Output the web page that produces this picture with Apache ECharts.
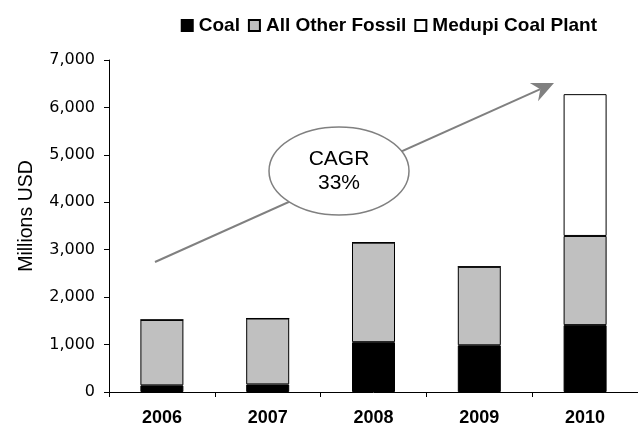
<!DOCTYPE html>
<html><head><meta charset="utf-8">
<script src="https://cdn.jsdelivr.net/npm/echarts@6/dist/echarts.min.js"></script>
<style>html,body{margin:0;padding:0;background:#fff}#c{width:638px;height:429px}</style>
</head><body><div id="c"></div>
<script>
var years = ['2006','2007','2008','2009','2010'];
var coal = [140, 160, 1050, 985, 1410];
var otherFossil = [1380, 1390, 2100, 1655, 1880];
var medupi = [0, 0, 0, 0, 2990];
var yTicks = [0, 1000, 2000, 3000, 4000, 5000, 6000, 7000];

var chart = echarts.init(document.getElementById('c'), null, {renderer:'canvas'});
var font = 'Arial, "Liberation Sans", sans-serif';
function ser(name, data, color){
  return {name:name, type:'bar', stack:'t', data:data, barWidth:43,
    itemStyle:{color:color, borderColor:'#000', borderWidth:1},
    emphasis:{disabled:true}};
}
// arrow geometry (annotation)
var tip=[554,83], tail=[155,262];
var dx=tip[0]-tail[0], dy=tip[1]-tail[1], L=Math.sqrt(dx*dx+dy*dy), ux=dx/L, uy=dy/L, nx=-uy, ny=ux;
var hl=22, hw=10, notch=15;
var base=[tip[0]-hl*ux, tip[1]-hl*uy];
var nb=[tip[0]-notch*ux, tip[1]-notch*uy];
chart.setOption({
  animation:false,
  textStyle:{fontFamily:font},
  legend:{top:11, right:36, itemWidth:11, itemHeight:11, itemGap:8, icon:'rect',
    textStyle:{fontFamily:font, fontWeight:'bold', fontSize:19, color:'#000', padding:[0,0,0,1]},
    data:['Coal','All Other Fossil','Medupi Coal Plant']},
  grid:{left:109, top:60, bottom:37, width:541},
  xAxis:{type:'category', data:years,
    axisLine:{lineStyle:{color:'#000', width:1}},
    axisTick:{show:true, length:5, lineStyle:{color:'#000'}},
    axisLabel:{fontFamily:font, fontWeight:'bold', fontSize:18, color:'#000', margin:17}},
  yAxis:{type:'value', min:yTicks[0], max:yTicks[yTicks.length-1], interval:1000,
    name:'Millions USD', nameLocation:'middle', nameGap:72, nameRotate:90,
    nameTextStyle:{fontFamily:font, fontSize:19.5, color:'#000', padding:[0,0,0,20]},
    axisLine:{show:true, lineStyle:{color:'#000', width:1}},
    axisTick:{show:true, length:5, lineStyle:{color:'#000'}},
    splitLine:{show:false},
    axisLabel:{fontFamily:'"DejaVu Sans", sans-serif', fontSize:16, color:'#000', margin:14,
      formatter:function(v){return v.toLocaleString('en-US');}}},
  series:[ser('Coal', coal, '#000'), ser('All Other Fossil', otherFossil, '#C0C0C0'), ser('Medupi Coal Plant', medupi, '#fff')],
  graphic:[
    {type:'line', shape:{x1:tail[0], y1:tail[1], x2:nb[0], y2:nb[1]}, style:{stroke:'#808080', lineWidth:2}, z:10},
    {type:'polygon', shape:{points:[tip,[base[0]+hw*nx, base[1]+hw*ny],nb,[base[0]-hw*nx, base[1]-hw*ny]]}, style:{fill:'#808080'}, z:10},
    {type:'ellipse', shape:{cx:339, cy:171, rx:70, ry:44}, style:{fill:'#fff', stroke:'#808080', lineWidth:1.5}, z:11},
    {type:'text', x:339, y:171, style:{text:'CAGR\n33%', fontFamily:font, fontSize:21, fill:'#000', align:'center', verticalAlign:'middle', lineHeight:24}, z:12}
  ]
});
</script></body></html>
